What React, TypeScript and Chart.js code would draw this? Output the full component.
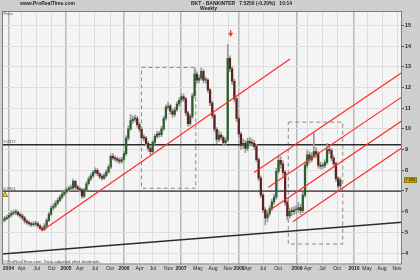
import React, { useEffect, useRef } from 'react';
import { Chart, registerables } from 'chart.js';

Chart.register(...registerables);

const FONT = '"Liberation Sans", Arial, sans-serif';

// ---- time axis (decimal years) ----
const X_MIN = 2003.889;
const X_MAX = 2010.833;
const START_YEAR = 2003.898; // first candle
const STEP_YEARS = 14 / 365.25; // one candle every two weeks
const FIRST_OPEN = 5.55;

// ---- price series ----
const closes = [
  5.6, 5.68, 5.73, 5.83, 5.92, 5.97, 5.97, 5.86, 5.8, 5.7,
  5.55, 5.47, 5.42, 5.37, 5.4, 5.42, 5.32, 5.2, 5.14, 5.32,
  5.58, 5.88, 6.18, 6.26, 6.41, 6.55, 6.7, 6.85, 6.95, 7.05,
  7.13, 7.14, 7.46, 7.2, 7.1, 7.05, 6.75, 7.05, 7.35, 7.58,
  7.73, 7.9, 8.0, 7.83, 7.7, 7.62, 7.74, 7.92, 8.15, 8.67,
  8.6, 8.55, 8.49, 8.43, 8.52, 8.8, 9.55, 10.0, 10.4, 10.47,
  10.5, 10.2, 9.98, 9.57, 9.55, 9.3, 9.05, 8.9, 9.35, 9.64,
  9.75, 9.72, 10.0, 10.5, 11.05, 11.1, 10.85, 10.7, 10.92, 11.2,
  11.38, 11.56, 11.45, 10.77, 10.25, 10.6, 11.6, 12.65, 12.35, 12.45,
  12.78, 12.35, 12.35, 11.88, 11.25, 10.65, 9.98, 9.49, 9.7, 9.58,
  9.33, 9.45, 13.4, 12.9, 12.3, 11.45, 10.5, 9.75, 9.2, 9.3,
  9.05, 9.4, 9.32, 9.3, 9.15, 8.51, 7.62, 6.8, 6.09, 5.7,
  5.9, 6.15, 6.47, 6.7, 7.95, 8.48, 8.3, 7.9, 6.45, 5.8,
  6.02, 6.0, 6.08, 6.1, 6.2, 6.05, 6.8, 8.25, 8.75, 8.5,
  8.68, 8.9, 8.8, 8.25, 8.2, 8.22, 8.38, 9.0, 8.95, 8.59,
  8.32, 7.6, 7.25, 7.525,
];

const highs = [
  5.72, 5.78, 5.85, 5.95, 6.05, 6.08, 6.1, 6.05, 5.95, 5.88,
  5.78, 5.62, 5.56, 5.5, 5.52, 5.55, 5.5, 5.38, 5.28, 5.42,
  5.68, 5.98, 6.28, 6.38, 6.52, 6.66, 6.8, 6.96, 7.06, 7.16,
  7.24, 7.28, 7.58, 7.52, 7.28, 7.2, 7.12, 7.14, 7.45, 7.68,
  7.84, 8.0, 8.12, 8.08, 7.9, 7.8, 7.85, 8.02, 8.26, 8.78,
  8.8, 8.7, 8.64, 8.6, 8.64, 8.92, 9.66, 10.14, 10.7, 10.62,
  10.66, 10.6, 10.3, 10.08, 9.72, 9.64, 9.4, 9.14, 9.45, 9.74,
  9.88, 9.88, 10.12, 10.62, 11.16, 11.28, 11.2, 10.95, 11.04, 11.32,
  11.5, 11.7, 11.68, 11.52, 10.86, 10.7, 11.72, 12.95, 12.75, 12.6,
  12.95, 12.86, 12.5, 12.42, 11.95, 11.34, 10.74, 10.06, 9.92, 9.82,
  9.66, 9.58, 14.08, 13.52, 13.0, 12.4, 11.55, 10.6, 9.84, 9.5,
  9.45, 9.55, 9.58, 9.5, 9.45, 9.25, 8.6, 7.72, 6.9, 6.2,
  6.05, 6.3, 6.6, 6.85, 8.1, 8.7, 8.65, 8.45, 8.0, 6.55,
  6.18, 6.2, 6.25, 6.3, 6.45, 6.35, 6.95, 8.4, 8.95, 8.9,
  8.85, 9.8, 9.1, 8.9, 8.4, 8.35, 8.5, 9.3, 9.15, 9.05,
  8.7, 8.4, 7.7, 7.65,
];

const lows = [
  5.48, 5.52, 5.6, 5.66, 5.76, 5.85, 5.86, 5.78, 5.7, 5.6,
  5.45, 5.38, 5.33, 5.28, 5.3, 5.3, 5.24, 5.12, 5.07, 5.1,
  5.26, 5.52, 5.82, 6.08, 6.18, 6.34, 6.48, 6.62, 6.76, 6.86,
  6.96, 7.02, 7.08, 7.1, 7.0, 6.94, 6.65, 6.68, 6.98, 7.28,
  7.5, 7.66, 7.82, 7.74, 7.6, 7.52, 7.55, 7.66, 7.85, 8.08,
  8.5, 8.44, 8.38, 8.32, 8.34, 8.45, 8.72, 9.45, 9.92, 10.28,
  10.34, 10.08, 9.86, 9.45, 9.42, 9.18, 8.92, 8.75, 8.82, 9.26,
  9.55, 9.6, 9.62, 9.92, 10.42, 10.95, 10.72, 10.55, 10.6, 10.84,
  11.1, 11.28, 11.32, 10.64, 10.12, 10.15, 10.5, 11.5, 12.2, 12.22,
  12.35, 12.22, 12.2, 11.75, 11.12, 10.52, 9.85, 9.3, 9.38, 9.45,
  9.2, 9.2, 9.38, 12.75, 12.15, 11.3, 10.35, 9.6, 9.0, 9.05,
  8.85, 8.95, 9.18, 9.15, 9.0, 8.4, 7.5, 6.68, 5.95, 5.36,
  5.5, 5.8, 6.05, 6.35, 6.6, 7.85, 8.1, 7.7, 6.3, 5.6,
  5.68, 5.8, 5.85, 5.9, 5.95, 5.85, 5.95, 6.7, 8.1, 8.35,
  8.4, 8.6, 8.6, 8.1, 8.05, 8.08, 8.12, 8.3, 8.8, 8.45,
  8.2, 7.45, 7.1, 7.15,
];

// ---- axis ticks ----
const tickYears = [
  2004.0, 2004.231, 2004.491, 2004.752,
  2005.0, 2005.243, 2005.503, 2005.764,
  2006.007, 2006.276, 2006.51, 2006.78,
  2006.997, 2007.292, 2007.552, 2007.813,
  2008.003, 2008.16, 2008.42, 2008.681,
  2009.01, 2009.201, 2009.453, 2009.705,
  2010.0, 2010.226, 2010.486, 2010.747,
];
const tickLabels = [
  '2004', 'Apr', 'Jul', 'Oct',
  '2005', 'Apr', 'Jul', 'Oct',
  '2006', 'Apr', 'Jul', 'Nov',
  '2007', 'May', 'Aug', 'Nov',
  '2008', 'Apr', 'Jul', 'Oct',
  '2009', 'Apr', 'Jul', 'Oct',
  '2010', 'May', 'Aug', 'Nov',
];
const Y_MIN = 3.45;
const Y_MAX = 15.69;
const yTicks = [4, 5, 6, 7, 8, 9, 10, 11, 12, 13, 14, 15];

// ---- drawing objects (in chart values) ----
const levels = [9.2317, 6.9951];
const levelLabels = ['9.2317', '6.9951'];
const longTrendX = [2004.578, 2008.889];
const longTrendY = [5.068, 13.375];
const baseLineX = [X_MIN, X_MAX];
const baseLineY = [3.955, 5.49];
const channelStartX = [2008.264, 2008.512, 2008.542, 2008.936];
const channelStartY = [7.887, 7.181, 6.083, 5.517];
const channelEndY = [12.718, 11.543, 10.392, 9.086];
const box1 = [2006.311, 2007.252, 7.133, 12.964];
const box2 = [2008.859, 2009.804, 4.439, 10.324];
const arrowX = 2007.859;
const arrowTipY = [14.57, 14.64, 14.76];
const alertIcon = [2003.941, 6.808];

const TITLE = 'BKT - BANKINTER   7.5250 (-0.20%)   10:14';
const LAST_PRICE = '7.525';

const RED = '#ff2b2b';
const DARK = '#2b2b2b';

function boxPoints(b: number[]) {
  const [x0, x1, y0, y1] = b;
  return [
    { x: x0, y: y1 }, { x: x1, y: y1 }, { x: x1, y: y0 }, { x: x0, y: y0 }, { x: x0, y: y1 },
  ];
}

const decorPlugin = {
  id: 'decor',
  beforeDraw(chart: any) {
    const { ctx, chartArea: a, width, height } = chart;
    ctx.save();
    ctx.fillStyle = '#cfcfcf';
    ctx.fillRect(0, 0, width, height);
    ctx.fillStyle = '#f4f4f4';
    ctx.fillRect(a.left, a.top, a.right - a.left, a.bottom - a.top);
    ctx.restore();
  },
  afterDraw(chart: any) {
    const { ctx, chartArea: a, scales } = chart;
    const ys = scales.y;
    ctx.save();
    ctx.strokeStyle = '#7d7d7d';
    ctx.lineWidth = 1;
    ctx.strokeRect(a.left + 0.5, a.top + 0.5, a.right - a.left - 1, a.bottom - a.top - 1);

    ctx.textBaseline = 'middle';
    ctx.textAlign = 'left';
    ctx.fillStyle = '#1e1e1e';
    ctx.font = `bold 5px ${FONT}`;
    ctx.fillText('www.ProRealTime.com', 20, 4);
    ctx.fillText(TITLE, 191, 4);
    ctx.fillText('Weekly', 200, 8.6);

    ctx.fillStyle = '#444';
    ctx.font = `4px ${FONT}`;
    ctx.fillText('Price', a.left + 1.5, a.top + 2.5);
    levels.forEach((lv, i) => {
      ctx.fillText(levelLabels[i], a.left + 1.5, ys.getPixelForValue(lv) - 2.4);
    });
    ctx.font = `4.3px ${FONT}`;
    ctx.fillText('\u00A9 ProRealTime.com  Data adjusted after dividends', a.left + 1, a.bottom - 3);

    const py = ys.getPixelForValue(closes[closes.length - 1]);
    ctx.fillStyle = '#d4b100';
    ctx.fillRect(a.right + 2, py - 2.8, 13, 5.6);
    ctx.strokeStyle = '#8a7400';
    ctx.strokeRect(a.right + 2.5, py - 2.3, 12, 4.6);
    ctx.fillStyle = '#3a2f00';
    ctx.font = `bold 4px ${FONT}`;
    ctx.fillText(LAST_PRICE, a.right + 3.5, py + 0.2);
    ctx.restore();
  },
};

export default function App() {
  const ref = useRef<HTMLCanvasElement>(null);

  useEffect(() => {
    const xs = closes.map((_, i) => START_YEAR + i * STEP_YEARS);
    const opens = closes.map((_, i) => (i === 0 ? FIRST_OPEN : closes[i - 1]));
    const wickData = closes.map((_, i) => ({ x: xs[i], y: [lows[i], highs[i]] }));
    const bodyData = closes.map((c, i) => ({ x: xs[i], y: [opens[i], c] }));
    const bodyColors = closes.map((c, i) => (c >= opens[i] ? '#2b5f2b' : '#5c2222'));

    const line = (pts: { x: number; y: number }[], color: string, width: number, order: number, dash?: number[]) => ({
      type: 'line',
      data: pts,
      borderColor: color,
      borderWidth: width,
      borderDash: dash || [],
      pointRadius: 0,
      fill: false,
      tension: 0,
      order,
    });

    const datasets: any[] = [];
    levels.forEach((lv) =>
      datasets.push(line([{ x: X_MIN, y: lv }, { x: X_MAX, y: lv }], DARK, 1.4, 7))
    );
    datasets.push(line(boxPoints(box1), '#8a8a8a', 1, 8, [4, 3]));
    datasets.push(line(boxPoints(box2), '#8a8a8a', 1, 8, [4, 3]));
    datasets.push({
      type: 'bar',
      data: wickData,
      backgroundColor: '#9a9a9a',
      barThickness: 1,
      grouped: false,
      borderWidth: 0,
      order: 6,
    });
    datasets.push({
      type: 'bar',
      data: bodyData,
      backgroundColor: bodyColors,
      barThickness: 1.6,
      minBarLength: 1,
      grouped: false,
      borderWidth: 0,
      order: 5,
    });
    datasets.push(line(baseLineX.map((x, i) => ({ x, y: baseLineY[i] })), DARK, 1.4, 2));
    datasets.push(line(longTrendX.map((x, i) => ({ x, y: longTrendY[i] })), RED, 1.2, 1));
    channelStartX.forEach((sx, i) =>
      datasets.push(line([{ x: sx, y: channelStartY[i] }, { x: X_MAX, y: channelEndY[i] }], RED, 1.2, 1))
    );
    datasets.push(line([{ x: arrowX, y: arrowTipY[2] }, { x: arrowX, y: arrowTipY[1] }], RED, 1.3, 0));
    datasets.push({
      type: 'scatter',
      data: [{ x: arrowX, y: arrowTipY[0] }],
      pointStyle: 'triangle',
      rotation: 180,
      pointRadius: 2.3,
      backgroundColor: RED,
      borderColor: RED,
      borderWidth: 0.5,
      order: 0,
    });
    datasets.push({
      type: 'scatter',
      data: [{ x: alertIcon[0], y: alertIcon[1] }],
      pointStyle: 'triangle',
      pointRadius: 3,
      backgroundColor: '#f2d400',
      borderColor: '#7d6d00',
      borderWidth: 0.8,
      order: 0,
    });

    const isYear = (i: number) => (tickLabels[i] || '').length === 4;

    const chart = new Chart(ref.current as HTMLCanvasElement, {
      type: 'bar',
      data: { datasets },
      plugins: [decorPlugin],
      options: {
        animation: false,
        responsive: false,
        devicePixelRatio: 1,
        events: [],
        layout: { padding: { left: 2, top: 11, right: 0, bottom: 0 }, autoPadding: false },
        plugins: { legend: { display: false }, tooltip: { enabled: false }, title: { display: false } },
        scales: {
          x: {
            type: 'linear',
            min: X_MIN,
            max: X_MAX,
            offset: false,
            afterBuildTicks: (s: any) => {
              s.ticks = tickYears.map((v) => ({ value: v }));
            },
            afterFit: (s: any) => {
              s.height = 15.5;
            },
            ticks: {
              autoSkip: false,
              maxRotation: 0,
              minRotation: 0,
              padding: 1.5,
              color: '#1e1e1e',
              callback: (_v: any, i: number) => tickLabels[i],
              font: (c: any) => ({ family: FONT, size: 5, weight: isYear(c.index) ? 'bold' : 'normal' }),
            },
            grid: {
              offset: false,
              drawTicks: false,
              color: (c: any) => (isYear(c.index) ? '#bababa' : '#dcdcdc'),
              lineWidth: (c: any) => (isYear(c.index) ? 1.6 : 1),
            },
            border: { display: false },
          },
          y: {
            type: 'linear',
            position: 'right',
            min: Y_MIN,
            max: Y_MAX,
            afterBuildTicks: (s: any) => {
              s.ticks = yTicks.map((v) => ({ value: v }));
            },
            afterFit: (s: any) => {
              s.width = 18;
            },
            ticks: {
              padding: 1,
              color: '#1e1e1e',
              font: { family: FONT, size: 5.5, weight: 'bold' },
              callback: (v: any) => String(v),
            },
            grid: { color: '#dedede', lineWidth: 1, drawTicks: true, tickLength: 2, tickColor: '#555' },
            border: { display: false },
          },
        },
      } as any,
    } as any);

    return () => chart.destroy();
  }, []);

  return (
    <div style={{ position: 'fixed', left: 0, top: 0, width: 420, height: 280 }}>
      <canvas ref={ref} width={420} height={280} style={{ display: 'block', width: 420, height: 280 }} />
    </div>
  );
}
